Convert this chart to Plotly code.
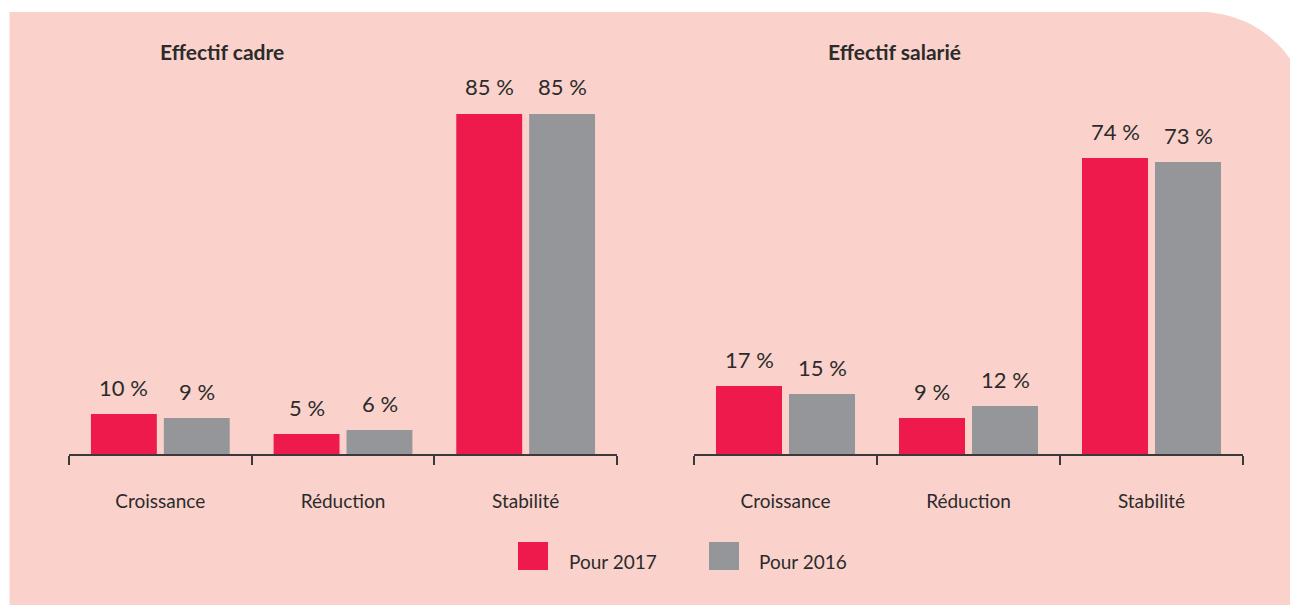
import numpy as np
import plotly.graph_objects as go

categories = ["Croissance", "Réduction", "Stabilité"]
series_names = ["Pour 2017", "Pour 2016"]
cadre_2017 = [10, 5, 85]
cadre_2016 = [9, 6, 85]
salarie_2017 = [17, 9, 74]
salarie_2016 = [15, 12, 73]
panel_titles = ["Effectif cadre", "Effectif salarié"]

OFF = 8  # page body margin
W, H = 1298 - OFF, 605 - OFF
RED = "#EE1A4B"
GRAY = "#959699"
BG = "#FAD2CB"
TXT = "#2b2b2b"
AX = "#3a3a3a"
FONT = "Lato, 'Liberation Sans', Arial, sans-serif"


def px(x):
    return (x - OFF) / W


def py(y):
    return 1 - (y - OFF) / H


fig = go.Figure()

panels = [
    ("x", "y", cadre_2017, cadre_2016),
    ("x2", "y2", salarie_2017, salarie_2016),
]
for xa, ya, v17, v16 in panels:
    for name, vals, col in [(series_names[0], v17, RED), (series_names[1], v16, GRAY)]:
        fig.add_trace(go.Bar(
            x=categories, y=vals, name=name, marker=dict(color=col, line=dict(width=0)),
            xaxis=xa, yaxis=ya, showlegend=False, hoverinfo="skip",
        ))

# value labels
annotations = []
for xa, ya, v17, v16 in panels:
    for vals, shift in [(v17, -36.5), (v16, 36.5)]:
        for c, v in zip(categories, vals):
            annotations.append(dict(
                x=c, y=v, xref=xa, yref=ya, text=f"{v} %", showarrow=False,
                xshift=shift, yshift=27, yanchor="middle", xanchor="center",
                font=dict(family=FONT, size=22, color=TXT),
            ))

# panel titles
for title, cx in zip(panel_titles, [222, 894]):
    annotations.append(dict(
        x=px(cx), y=py(52), xref="paper", yref="paper", text=f"<b>{title}</b>",
        showarrow=False, xanchor="center", yanchor="middle",
        font=dict(family=FONT, size=21, color=TXT),
    ))

shapes = []
# background panel with rounded top-right corner
cx0, cy0, r = 1200, 122, 110
pts = [(9.5, H + OFF + 2), (9.5, 12), (cx0, 12)]
for t in np.linspace(-np.pi / 2, 0, 40):
    pts.append((cx0 + r * np.cos(t), cy0 + r * np.sin(t)))
pts.append((cx0 + r, H + OFF + 2))
path = "M " + " L ".join(f"{px(x):.5f},{py(y):.5f}" for x, y in pts) + " Z"
shapes.append(dict(type="path", path=path, xref="paper", yref="paper",
                   fillcolor=BG, line=dict(width=0), layer="below"))

# legend
for name, col, sx, tx in [(series_names[0], RED, 518, 567), (series_names[1], GRAY, 709, 757)]:
    shapes.append(dict(type="rect", xref="paper", yref="paper",
                       x0=px(sx), x1=px(sx + 30), y0=py(570), y1=py(542),
                       fillcolor=col, line=dict(width=0)))
    annotations.append(dict(
        x=px(tx), y=py(561), xref="paper", yref="paper", text=name, showarrow=False,
        xanchor="left", yanchor="middle", font=dict(family=FONT, size=19, color=TXT),
    ))

ydom = [py(454), py(30)]
axis_common = dict(
    type="category", range=[-0.5, 2.5], showline=True, linecolor=AX, linewidth=2,
    ticks="outside", tickson="boundaries", ticklen=9, tickwidth=2, tickcolor=AX,
    showgrid=False, zeroline=False, fixedrange=True, ticklabelstandoff=29,
    tickfont=dict(family=FONT, size=19, color=TXT),
)
yaxis_common = dict(range=[0, (454 - 30) / 4], visible=False, fixedrange=True, domain=ydom)

fig.update_layout(
    width=W, height=H,
    margin=dict(l=0, r=0, t=0, b=0),
    paper_bgcolor="white", plot_bgcolor="rgba(0,0,0,0)",
    barmode="group", bargap=0.202, bargroupgap=0.096,
    xaxis=dict(domain=[px(69), px(617)], anchor="y", **axis_common),
    xaxis2=dict(domain=[px(694), px(1243)], anchor="y2", **axis_common),
    yaxis=dict(anchor="x", **yaxis_common),
    yaxis2=dict(anchor="x2", **yaxis_common),
    annotations=annotations, shapes=shapes, showlegend=False,
)

fig.write_html("out.html")
